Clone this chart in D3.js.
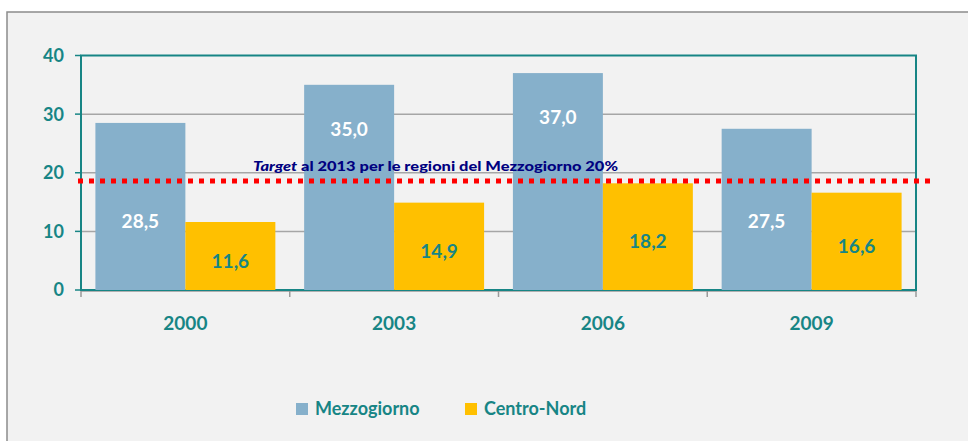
<!DOCTYPE html>
<html>
<head>
<meta charset="utf-8">
<script src="https://cdn.jsdelivr.net/npm/d3@7"></script>
<style>
  body { margin: 0; background: #fff; }
  svg { display: block; font-family: Lato, "Open Sans", sans-serif; font-weight: bold; }
</style>
</head>
<body>
<script>
// data
var years = ["2000", "2003", "2006", "2009"];
var series = ["Mezzogiorno", "Centro-Nord"];
var mezzogiorno = [28.5, 35.0, 37.0, 27.5];
var centroNord = [11.6, 14.9, 18.2, 16.6];
var yTicks = [0, 10, 20, 30, 40];
var target = 18.6;
var targetLabel = "al 2013 per le regioni del Mezzogiorno 20%";

var W = 968, H = 441;
var margin = {top: 55.5, right: 52, bottom: 151, left: 81};
var width = W - margin.left - margin.right,
    height = H - margin.top - margin.bottom;

var teal = "#178585", blue = "#86b0cb", yellow = "#ffc000";

var svg = d3.select("body").append("svg")
    .attr("width", W)
    .attr("height", H);

// background panel with grey frame
svg.append("rect").attr("x", 7).attr("y", 12).attr("width", W).attr("height", H)
    .attr("fill", "#f2f2f2").attr("stroke", "#8c8c8c").attr("stroke-width", 1.5);

var g = svg.append("g")
    .attr("transform", "translate(" + margin.left + "," + margin.top + ")");

var x0 = d3.scaleBand().domain(years).range([0, width]).paddingInner(0.138).paddingOuter(0.069);
var x1 = d3.scaleBand().domain(series).range([0, x0.bandwidth()]);
var y = d3.scaleLinear().domain([0, 40]).range([height, 0]);

// gridlines
g.selectAll("line.grid")
    .data(yTicks.filter(function(d){ return d > 0 && d < 40; }))
  .enter().append("line")
    .attr("class", "grid")
    .attr("x1", 0).attr("x2", width)
    .attr("y1", function(d){ return y(d); }).attr("y2", function(d){ return y(d); })
    .attr("stroke", "#a6a6a6").attr("stroke-width", 1.5);

// bottom axis (grey) with ticks at category boundaries
g.append("line").attr("x1", 0).attr("x2", width).attr("y1", height + 1).attr("y2", height + 1)
    .attr("stroke", "#9a9a9a").attr("stroke-width", 1.5);
var bounds = d3.range(years.length + 1).map(function(i){ return i * width / years.length; });
g.selectAll("line.xtick").data(bounds).enter().append("line")
    .attr("x1", function(d){ return d; }).attr("x2", function(d){ return d; })
    .attr("y1", height).attr("y2", height + 7)
    .attr("stroke", "#9a9a9a").attr("stroke-width", 1.5);

// plot frame (teal)
g.append("rect").attr("x", 0).attr("y", 0).attr("width", width).attr("height", height)
    .attr("fill", "none").attr("stroke", teal).attr("stroke-width", 2);

// y ticks
g.selectAll("line.ytick").data(yTicks).enter().append("line")
    .attr("x1", -6).attr("x2", 0)
    .attr("y1", function(d){ return y(d); }).attr("y2", function(d){ return y(d); })
    .attr("stroke", teal).attr("stroke-width", 1.5);
g.selectAll("text.ylab").data(yTicks).enter().append("text")
    .attr("x", -17).attr("y", function(d){ return y(d); })
    .attr("dy", "0.36em").attr("text-anchor", "end")
    .attr("fill", teal).style("font-size", "18px")
    .text(function(d){ return d; });

// bars
var rows = years.map(function(yr, i){
    return {year: yr, values: [
        {key: series[0], value: mezzogiorno[i]},
        {key: series[1], value: centroNord[i]}
    ]};
});

var grp = g.selectAll("g.year").data(rows).enter().append("g")
    .attr("class", "year")
    .attr("transform", function(d){ return "translate(" + x0(d.year) + ",0)"; });

grp.selectAll("rect").data(function(d){ return d.values; }).enter().append("rect")
    .attr("x", function(d){ return x1(d.key); })
    .attr("y", function(d){ return y(d.value); })
    .attr("width", x1.bandwidth())
    .attr("height", function(d){ return height - y(d.value); })
    .attr("fill", function(d){ return d.key === series[0] ? blue : yellow; });

// value labels
var fmt = function(v){ return d3.format(".1f")(v).replace(".", ","); };
grp.selectAll("text.val").data(function(d){ return d.values; }).enter().append("text")
    .attr("x", function(d){ return x1(d.key) + x1.bandwidth() / 2; })
    .attr("y", function(d){
        if (d.key === series[1]) return (y(d.value) + height) / 2 + 5;
        // tall blue bars get the label near the top, the others lower down
        return d.value > 30 ? y(d.value) + 44 : y(11.6) - 1;
    })
    .attr("dy", "0.36em").attr("text-anchor", "middle")
    .attr("fill", function(d){ return d.key === series[0] ? "#fff" : teal; })
    .style("font-size", "19px")
    .text(function(d){ return fmt(d.value); });

// target line
g.append("line")
    .attr("x1", -3).attr("x2", width + 15)
    .attr("y1", y(target)).attr("y2", y(target))
    .attr("stroke", "#ff0000").attr("stroke-width", 5)
    .attr("stroke-dasharray", "5,6");

var tt = g.append("text")
    .attr("x", 172).attr("y", y(target) - 10)
    .attr("fill", "#000080").style("font-size", "14px").style("font-weight", 900)
    .attr("textLength", 365).attr("lengthAdjust", "spacingAndGlyphs");
tt.append("tspan").style("font-style", "italic").text("Target");
tt.append("tspan").text(" " + targetLabel);

// x labels
g.selectAll("text.xlab").data(years).enter().append("text")
    .attr("x", function(d){ return x0(d) + x0.bandwidth() / 2; })
    .attr("y", height + 40)
    .attr("text-anchor", "middle")
    .attr("fill", teal).style("font-size", "19px")
    .text(function(d){ return d; });

// legend
var legX = [296, 465];
var leg = svg.selectAll("g.leg").data(series).enter().append("g")
    .attr("transform", function(d, i){ return "translate(" + legX[i] + ",403)"; });
leg.append("rect").attr("width", 12).attr("height", 12)
    .attr("fill", function(d, i){ return i === 0 ? blue : yellow; });
leg.append("text").attr("x", 19).attr("y", 6).attr("dy", "0.36em")
    .attr("fill", teal).style("font-size", "18px")
    .text(function(d){ return d; });
</script>
</body>
</html>
